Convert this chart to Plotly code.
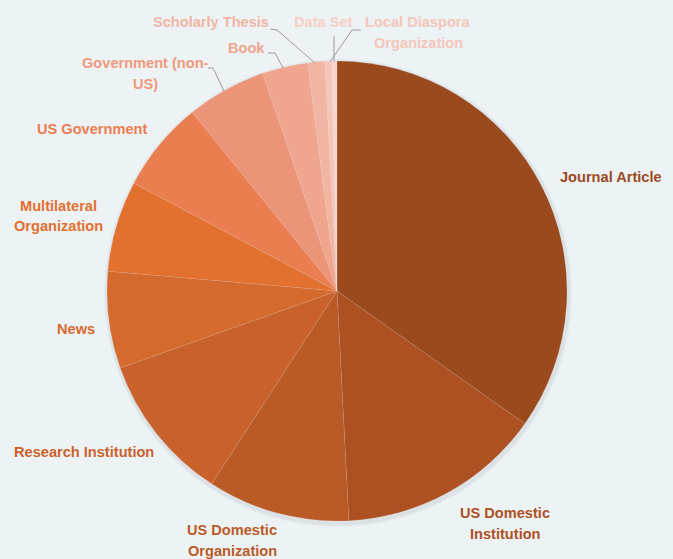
import plotly.graph_objects as go

W, H = 673, 559

categories = ["Journal Article", "US Domestic Institution", "US Domestic Organization",
              "Research Institution", "News", "Multilateral Organization", "US Government",
              "Government (non-US)", "Book", "Scholarly Thesis", "Data Set",
              "Local Diaspora Organization"]
values = [87, 36, 25, 26, 17, 16, 16, 14, 8, 3, 1.2, 0.9]
colors = ["#9b4a1e", "#ad5123", "#ba5a26", "#c9612c", "#d56a2e", "#e2702f", "#ea7e51",
          "#ec9477", "#efa58e", "#f2b5a3", "#f4c5b9", "#f7d5cc"]
label_lines = [["Journal Article"], ["US Domestic", "Institution"], ["US Domestic", "Organization"],
               ["Research Institution"], ["News"], ["Multilateral", "Organization"], ["US Government"],
               ["Government (non-", "US)"], ["Book"], ["Scholarly Thesis"], ["Data Set"],
               ["Local Diaspora", "Organization"]]
label_colors = ["#9b4a1e", "#ad5123", "#ba5a26", "#c9612c", "#d56a2e", "#e2702f", "#ea7e51",
                "#ee9a7c", "#efa58e", "#f2b5a3", "#f5cfc4", "#f4c6b9"]
# first-line centres in pixels
label_pos = [(611, 177), (505, 513), (232, 530), (84, 452), (76, 329), (58, 206), (92, 129),
             (145, 63), (247, 48), (211, 22), (323, 22), (418, 22)]
LINE_GAP = 20.5

cx, cy, r = 337, 291, 230


def px(x):
    return x / W


def py(y):
    return 1 - y / H


fig = go.Figure()
fig.add_trace(go.Pie(
    labels=categories, values=values, sort=False, direction="clockwise", rotation=0,
    marker=dict(colors=colors, line=dict(color="rgba(255,255,255,0.15)", width=0.6)),
    textinfo="none", hoverinfo="label+value",
    domain=dict(x=[px(cx - r), px(cx + r)], y=[py(cy + r), py(cy - r)]),
    showlegend=False,
))

shapes = []
# soft shadow under pie
for off, op in [(4, 0.04), (2.5, 0.06)]:
    shapes.append(dict(type="circle", xref="paper", yref="paper", layer="below",
                       x0=px(cx - r - off + 1), x1=px(cx + r + off + 1),
                       y0=py(cy + r + off + 2), y1=py(cy - r - off + 2),
                       fillcolor=f"rgba(60,70,80,{op})", line=dict(width=0)))

leaders = [
    [(208, 68), (213, 68), (224, 91)],
    [(268, 53), (275, 53), (283, 68)],
    [(270, 29), (277, 30), (315, 63)],
    [(334, 36), (334, 62)],
    [(361, 30), (352, 30), (330, 62)],
]
for pts in leaders:
    path = "M " + " L ".join(f"{px(x)} {py(y)}" for x, y in pts)
    shapes.append(dict(type="path", xref="paper", yref="paper", path=path,
                       line=dict(color="#9a9a9a", width=1)))

annotations = []
for lines, c, (x, y) in zip(label_lines, label_colors, label_pos):
    for i, t in enumerate(lines):
        annotations.append(dict(text=t, x=px(x), y=py(y + i * LINE_GAP), xref="paper", yref="paper",
                                xanchor="center", yanchor="middle", showarrow=False,
                                font=dict(family="Liberation Sans, Arial, sans-serif", size=14.6,
                                          color=c, weight="bold")))

fig.update_layout(
    width=W, height=H, margin=dict(l=0, r=0, t=0, b=0),
    paper_bgcolor="#edf2f5", plot_bgcolor="#edf2f5",
    shapes=shapes, annotations=annotations,
)
fig.write_html("out.html", config={"displayModeBar": False},
               post_script="document.body.style.margin='0';document.body.style.background='#edf2f5';")
